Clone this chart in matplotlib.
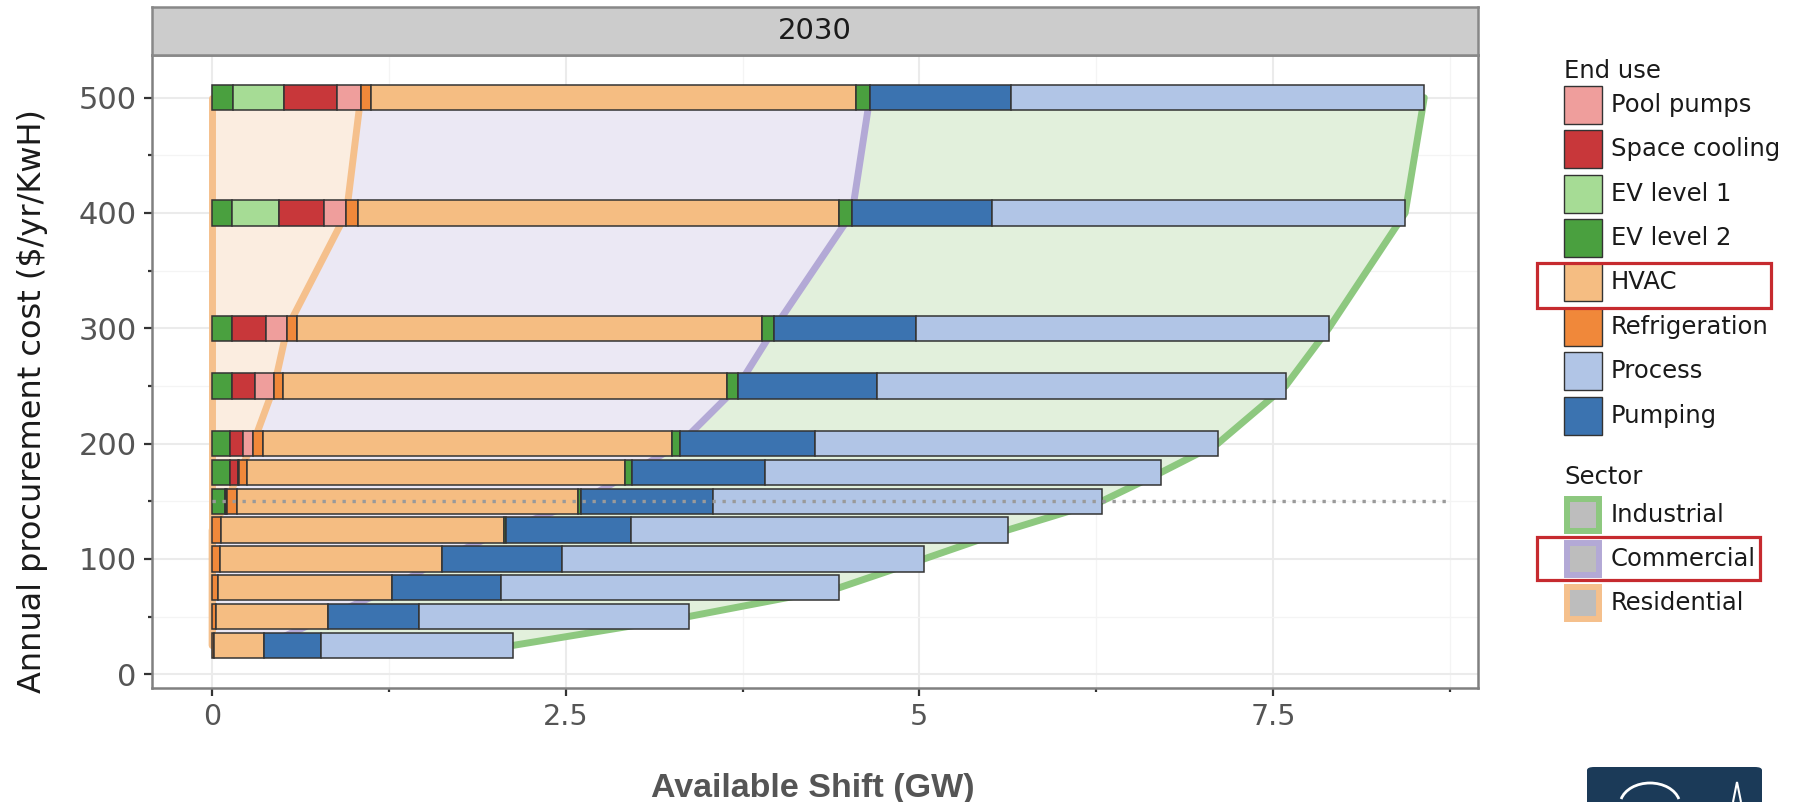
import matplotlib
matplotlib.use("Agg")
import matplotlib.pyplot as plt
from matplotlib.patches import Rectangle, FancyBboxPatch, Arc, Polygon
import numpy as np

W, H = 1810, 802

# procurement cost levels ($/yr/kWh), one stacked bar each
costs = [25, 50, 75, 100, 125, 150, 175, 200, 250, 300, 400, 500]

# available shift (GW) per end use, bottom row first, in stacking order
ev2_res = [0, 0, 0, 0, 0, 0.09, 0.13, 0.13, 0.14, 0.14, 0.14, 0.15]
ev1 = [0, 0, 0, 0, 0, 0, 0, 0, 0, 0, 0.33, 0.36]
space_cooling = [0, 0, 0, 0, 0, 0.01, 0.05, 0.09, 0.16, 0.24, 0.32, 0.37]
pool_pumps = [0, 0, 0, 0, 0, 0.005, 0.01, 0.07, 0.14, 0.15, 0.16, 0.17]
refrigeration = [0.01, 0.03, 0.045, 0.055, 0.065, 0.07, 0.06, 0.07, 0.06, 0.07, 0.08, 0.07]
hvac = [0.36, 0.79, 1.23, 1.57, 2.0, 2.41, 2.67, 2.89, 3.14, 3.29, 3.40, 3.43]
ev2_com = [0, 0, 0, 0, 0.01, 0.025, 0.05, 0.06, 0.08, 0.085, 0.095, 0.10]
pumping = [0.40, 0.64, 0.77, 0.85, 0.89, 0.93, 0.94, 0.95, 0.98, 1.00, 0.99, 1.00]
process = [1.36, 1.91, 2.39, 2.56, 2.66, 2.75, 2.80, 2.85, 2.89, 2.92, 2.92, 2.92]

ref_cost = 150
ref_max = 8.75

x_ticks = [0, 2.5, 5, 7.5]
x_ticklabels = ["0", "2.5", "5", "7.5"]
y_ticks = [0, 100, 200, 300, 400, 500]

c_pool = "#ef9e9c"
c_cool = "#c8373a"
c_ev1 = "#a6dc95"
c_ev2 = "#4aa03f"
c_hvac = "#f5bd82"
c_refr = "#f0883a"
c_proc = "#b1c5e6"
c_pump = "#3b73b0"

segments = [
    (ev2_res, c_ev2), (ev1, c_ev1), (space_cooling, c_cool), (pool_pumps, c_pool),
    (refrigeration, c_refr), (hvac, c_hvac), (ev2_com, c_ev2),
    (pumping, c_pump), (process, c_proc),
]

end_use_labels = ["Pool pumps", "Space cooling", "EV level 1", "EV level 2",
                  "HVAC", "Refrigeration", "Process", "Pumping"]
end_use_colors = [c_pool, c_cool, c_ev1, c_ev2, c_hvac, c_refr, c_proc, c_pump]

sector_labels = ["Industrial", "Commercial", "Residential"]
sector_lines = ["#8dc87f", "#b3a9d6", "#f5c08c"]
sector_fills = ["#e2f0dc", "#ebe8f4", "#fbede0"]


def fx(x):
    return x / W


def fy(y):
    return 1 - y / H


def main():
    fig = plt.figure(figsize=(W / 100, H / 100), dpi=100)
    ax = fig.add_axes([fx(152), fy(688), fx(1478) - fx(152), fy(55) - fy(688)])

    y = np.array(costs, dtype=float)
    res = np.sum([ev2_res, ev1, space_cooling, pool_pumps], axis=0)
    com = res + np.sum([refrigeration, hvac, ev2_com], axis=0)
    ind = com + np.sum([pumping, process], axis=0)

    # sector ribbons behind the bars
    ax.fill_betweenx(y, com, ind, color=sector_fills[0], lw=0, zorder=1)
    ax.fill_betweenx(y, res, com, color=sector_fills[1], lw=0, zorder=1)
    ax.fill_betweenx(y, 0, res, color=sector_fills[2], lw=0, zorder=1)
    kw = dict(lw=5, solid_capstyle="round", solid_joinstyle="round", zorder=2)
    ax.plot(ind, y, color=sector_lines[0], **kw)
    ax.plot(com, y, color=sector_lines[1], **kw)
    ax.plot(res, y, color=sector_lines[2], **kw)
    ax.plot(np.zeros_like(y), y, color=sector_lines[2], **kw)

    # stacked bars
    left = np.zeros(len(costs))
    for vals, col in segments:
        vals = np.array(vals, dtype=float)
        m = vals > 0
        ax.barh(y[m], vals[m], left=left[m], height=22, color=col,
                edgecolor="#333333", linewidth=1.1, zorder=3)
        left += vals

    ax.plot([0, ref_max], [ref_cost, ref_cost], color="#9a9a9a", lw=2.4,
            ls=(0, (1, 2)), zorder=4)

    ax.set_xlim(-0.425, 8.95)
    ax.set_ylim(-12, 537)
    ax.set_xticks(x_ticks)
    ax.set_xticklabels(x_ticklabels)
    ax.set_xticks([1.25, 3.75, 6.25, 8.75], minor=True)
    ax.set_yticks(y_ticks)
    ax.set_yticks([50, 150, 250, 350, 450], minor=True)
    ax.set_axisbelow(True)
    ax.grid(which="major", color="#ebebeb", lw=1.5)
    ax.grid(which="minor", color="#f4f4f4", lw=0.9)
    ax.tick_params(which="major", labelcolor="#555555",
                   length=6, width=1.6, color="#333333", pad=5)
    ax.tick_params(axis="y", which="major", labelsize=22)
    ax.tick_params(axis="x", which="major", labelsize=20.5)
    ax.tick_params(which="minor", length=3, width=1.6, color="#333333")
    for sp in ax.spines.values():
        sp.set_color("#808080")
        sp.set_linewidth(1.8)

    # facet strip
    sax = fig.add_axes([fx(152), fy(55), fx(1478) - fx(152), fy(7) - fy(55)])
    sax.set_facecolor("#cccccc")
    sax.set_xticks([])
    sax.set_yticks([])
    for sp in sax.spines.values():
        sp.set_color("#888888")
        sp.set_linewidth(1.8)
    sax.text(0.5, 0.5, "2030", ha="center", va="center", fontsize=21,
             color="#1a1a1a", transform=sax.transAxes)

    fig.text(fx(33), fy(401), "Annual procurement cost ($/yr/KwH)", rotation=90,
             ha="center", va="center", fontsize=23, color="#1a1a1a")
    fig.text(fx(813), fy(789), "Available Shift (GW)", ha="center", va="center",
             fontsize=24.5, fontweight="bold", color="#555555",
             family="Liberation Sans")

    # legend, drawn by hand
    tkw = dict(fontsize=17.5, color="#1a1a1a", va="center", ha="left")
    fig.text(fx(1564), fy(71), "End use", **tkw)
    for i, (lab, col) in enumerate(zip(end_use_labels, end_use_colors)):
        cy = 105 + i * 44.36
        fig.add_artist(Rectangle((fx(1564), fy(cy + 19)), 38 / W, 38 / H,
                                 facecolor=col, edgecolor="#333333", lw=1,
                                 transform=fig.transFigure))
        fig.text(fx(1611), fy(cy), lab, **tkw)

    fig.text(fx(1564), fy(477), "Sector", **tkw)
    for i, (lab, col) in enumerate(zip(sector_labels, sector_lines)):
        cy = 515 + i * 44
        fig.add_artist(Rectangle((fx(1567), fy(cy + 16)), 32 / W, 32 / H,
                                 facecolor="#bdbdbd", edgecolor=col, lw=4.3,
                                 transform=fig.transFigure))
        fig.text(fx(1611), fy(cy), lab, **tkw)

    # red highlight boxes
    for x0, y0, x1, y1 in [(1537, 263, 1771, 308), (1537, 537, 1760, 580)]:
        fig.add_artist(Rectangle((fx(x0), fy(y1)), (x1 - x0) / W, (y1 - y0) / H,
                                 facecolor="none", edgecolor="#c62a2f", lw=2.3,
                                 transform=fig.transFigure))

    # logo corner
    fig.add_artist(FancyBboxPatch((fx(1587), fy(815)), 175 / W, 48 / H,
                                  boxstyle="round,pad=0,rounding_size=0.004",
                                  facecolor="#1b3a58", edgecolor="none",
                                  transform=fig.transFigure))
    fig.add_artist(Arc((fx(1650), fy(805)), 60 / W, 44 / H, theta1=25, theta2=155,
                       color="white", lw=2, transform=fig.transFigure))
    fig.add_artist(Polygon([(fx(1733), fy(802)), (fx(1737), fy(782)), (fx(1741), fy(802))],
                           closed=False, fill=False, edgecolor="white", lw=1.5,
                           transform=fig.transFigure))

    fig.savefig("out.png", dpi=100)


if __name__ == "__main__":
    main()
